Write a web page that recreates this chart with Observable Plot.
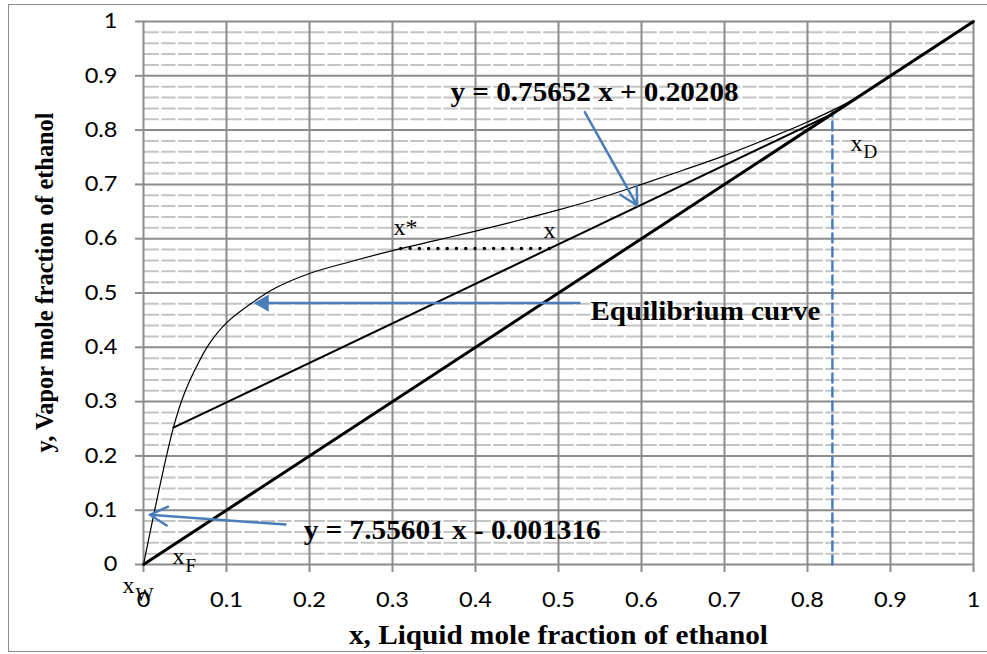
<!DOCTYPE html>
<html><head><meta charset="utf-8">
<script src="https://cdn.jsdelivr.net/npm/d3@7"></script>
<script src="https://cdn.jsdelivr.net/npm/@observablehq/plot@0.6"></script>
<style>
html,body{margin:0;padding:0;background:#fff;overflow:hidden;}
#wrap{position:relative;width:987px;height:654px;overflow:hidden;}
#frame{position:absolute;left:8px;top:4px;width:990px;height:648px;border:1.5px solid #8a8a8a;box-sizing:border-box;pointer-events:none;}
</style></head><body>
<div id="wrap"><div id="chart"></div><div id="frame"></div></div>
<script>
// ---------- data ----------
const eqX = [0, 0.036, 0.05, 0.065, 0.08, 0.1, 0.13, 0.16, 0.2, 0.25, 0.3, 0.35, 0.4, 0.45, 0.5, 0.55, 0.6, 0.65, 0.7, 0.75, 0.8, 0.85, 0.9, 1.0];
const eqY = [0, 0.252, 0.318, 0.368, 0.408, 0.445, 0.481, 0.510, 0.536, 0.558, 0.578, 0.596, 0.614, 0.633, 0.653, 0.675, 0.700, 0.726, 0.753, 0.783, 0.815, 0.852, 0.900, 1.0];
const diagX = [0, 1];
const diagY = [0, 1];
const opX = [0.036, 0.83];
const opY = [0.252, 0.83];
const tieX = [0.31, 0.50];
const tieY = [0.582, 0.582];
const xdX = [0.83, 0.83];
const xdY = [0, 0.833];

const xTicks = [0, 0.1, 0.2, 0.3, 0.4, 0.5, 0.6, 0.7, 0.8, 0.9, 1];
const xTickLabels = ["0", "0.1", "0.2", "0.3", "0.4", "0.5", "0.6", "0.7", "0.8", "0.9", "1"];
const yTicks = [0, 0.1, 0.2, 0.3, 0.4, 0.5, 0.6, 0.7, 0.8, 0.9, 1];
const yTickLabels = ["0", "0.1", "0.2", "0.3", "0.4", "0.5", "0.6", "0.7", "0.8", "0.9", "1"];
const minorTicks = [0.02, 0.04, 0.06, 0.08, 0.12, 0.14, 0.16, 0.18, 0.22, 0.24, 0.26, 0.28,
  0.32, 0.34, 0.36, 0.38, 0.42, 0.44, 0.46, 0.48, 0.52, 0.54, 0.56, 0.58, 0.62, 0.64, 0.66, 0.68,
  0.72, 0.74, 0.76, 0.78, 0.82, 0.84, 0.86, 0.88, 0.92, 0.94, 0.96, 0.98];

// annotation arrows (open heads)
const arrowX1 = [0.5317, 0.1711];
const arrowY1 = [0.833, 0.0737];
const arrowX2 = [0.5948, 0.0076];
const arrowY2 = [0.6611, 0.0915];
// equilibrium-curve arrow (filled head)
const eqArrowX1 = [0.5265];
const eqArrowX2 = [0.14];
const eqArrowY = [0.4815];
const eqHeadX = [0.1449];

// bold equation / caption labels
const labelText = ["y = 0.75652 x + 0.20208", "Equilibrium curve", "y = 7.55601 x - 0.001316"];
const labelX = [0.5434, 0.6771, 0.3719];
const labelY = [0.8545, 0.4494, 0.0473];

// symbol labels
const symText = ["x*", "x", "x", "x", "x"];
const symX = [0.3012, 0.4819, 0.8518, 0.0349, -0.0253];
const symY = [0.6059, 0.6004, 0.7624, 0.0018, -0.0534];
const subText = ["D", "F", "W"];
const subX = [0.8675, 0.0506, -0.0096];
const subY = [0.7495, -0.0147, -0.0663];

const xTitle = "x, Liquid mole fraction of ethanol";
const yTitle = "y, Vapor mole fraction of ethanol";

// ---------- build ----------
const pts = (xs, ys) => xs.map((x, i) => ({x, y: ys[i]}));
const eq = pts(eqX, eqY);
const diag = pts(diagX, diagY);
const op = pts(opX, opY);
const tie = pts(tieX, tieY);
const xd = pts(xdX, xdY);
const arrows = arrowX1.map((x1, i) => ({x1, y1: arrowY1[i], x2: arrowX2[i], y2: arrowY2[i]}));
const eqArrow = eqArrowX1.map((x1, i) => ({x1, x2: eqArrowX2[i], y: eqArrowY[i], hx: eqHeadX[i]}));
const labels = labelText.map((t, i) => ({t, x: labelX[i], y: labelY[i]}));
const syms = symText.map((t, i) => ({t, x: symX[i], y: symY[i]}));
const subs = subText.map((t, i) => ({t, x: subX[i], y: subY[i]}));

const BLUE = "#4a7ebb";
const SERIF = "Liberation Serif, Times New Roman, serif";

const chart = Plot.plot({
  width: 987, height: 654,
  marginLeft: 143, marginRight: 14, marginTop: 21, marginBottom: 90,
  x: {domain: [0, 1]},
  y: {domain: [0, 1]},
  style: {fontFamily: "Lato, sans-serif", fontSize: "21px", background: "white"},
  marks: [
    Plot.ruleY(minorTicks, {stroke: "#c4c4c4", strokeWidth: 2}),
    Plot.ruleX(minorTicks, {stroke: "white", strokeWidth: 2.5}),
    Plot.ruleY(yTicks, {stroke: "#8c8c8c", strokeWidth: 2}),
    Plot.ruleX(xTicks, {stroke: "#8c8c8c", strokeWidth: 2}),
    Plot.axisX({ticks: xTicks, tickFormat: d => xTickLabels[xTicks.indexOf(d)], tickSize: 8, tickPadding: 20,
      stroke: "#8c8c8c", strokeWidth: 2, fill: "black", label: null, fontSize: 21}),
    Plot.axisY({ticks: yTicks, tickFormat: d => yTickLabels[yTicks.indexOf(d)], tickSize: 8, tickPadding: 18,
      stroke: "#8c8c8c", strokeWidth: 2, fill: "black", label: null, fontSize: 21}),
    // blue dashed x_D line
    Plot.line(xd, {x: "x", y: "y", stroke: BLUE, strokeWidth: 2.5, strokeDasharray: "9 5"}),
    // diagonal
    Plot.line(diag, {x: "x", y: "y", stroke: "black", strokeWidth: 3}),
    // operating line
    Plot.line(op, {x: "x", y: "y", stroke: "black", strokeWidth: 2}),
    // equilibrium curve
    Plot.line(eq, {x: "x", y: "y", stroke: "black", strokeWidth: 1.2, curve: "catmull-rom"}),
    // dotted tie line
    Plot.line(tie, {x: "x", y: "y", stroke: "black", strokeWidth: 3.5, strokeDasharray: "0 9.28", strokeLinecap: "round"}),
    // arrows
    Plot.arrow(arrows, {x1: "x1", y1: "y1", x2: "x2", y2: "y2", stroke: BLUE, strokeWidth: 2.5, headLength: 12, headAngle: 56}),
    Plot.link(eqArrow, {x1: "x1", x2: "x2", y1: "y", y2: "y", stroke: BLUE, strokeWidth: 2.5}),
    Plot.dot(eqArrow, {x: "hx", y: "y", symbol: "triangle", r: 6.4, rotate: -90, fill: BLUE, stroke: "none"}),
    // labels
    Plot.text(labels, {x: "x", y: "y", text: "t", fontFamily: SERIF, fontWeight: "bold", fontSize: 27,
      textAnchor: "middle", lineAnchor: "bottom", fill: "black"}),
    Plot.text(syms, {x: "x", y: "y", text: "t", fontFamily: SERIF, fontSize: 24,
      textAnchor: "start", lineAnchor: "bottom", fill: "black"}),
    Plot.text(subs, {x: "x", y: "y", text: "t", fontFamily: SERIF, fontSize: 19,
      textAnchor: "start", lineAnchor: "bottom", fill: "black"}),
    Plot.text([xTitle], {text: d => d, frameAnchor: "bottom", dy: 79, lineAnchor: "bottom",
      fontFamily: SERIF, fontWeight: "bold", fontSize: 28, fill: "black"}),
    Plot.text([yTitle], {text: d => d, frameAnchor: "left", dx: -91, dy: 159.5, rotate: -90,
      textAnchor: "start", lineAnchor: "bottom",
      fontFamily: SERIF, fontWeight: "bold", fontSize: 26, fill: "black"})
  ]
});
document.getElementById("chart").appendChild(chart);

// horizontal stretch of text to match the reference proportions
const widthTargets = {};
widthTargets[xTitle] = 419;
widthTargets[yTitle] = 340;
widthTargets[labelText[0]] = 288;
widthTargets[labelText[1]] = 230;
widthTargets[labelText[2]] = 297;
chart.querySelectorAll("text").forEach(t => {
  const w = widthTargets[t.textContent];
  if (w) {
    t.setAttribute("textLength", w);
    t.setAttribute("lengthAdjust", "spacingAndGlyphs");
  } else if (t.closest('g[aria-label$="tick label"]')) {
    t.setAttribute("textLength", t.getComputedTextLength() * 1.12);
    t.setAttribute("lengthAdjust", "spacingAndGlyphs");
  }
});
</script>
</body></html>
